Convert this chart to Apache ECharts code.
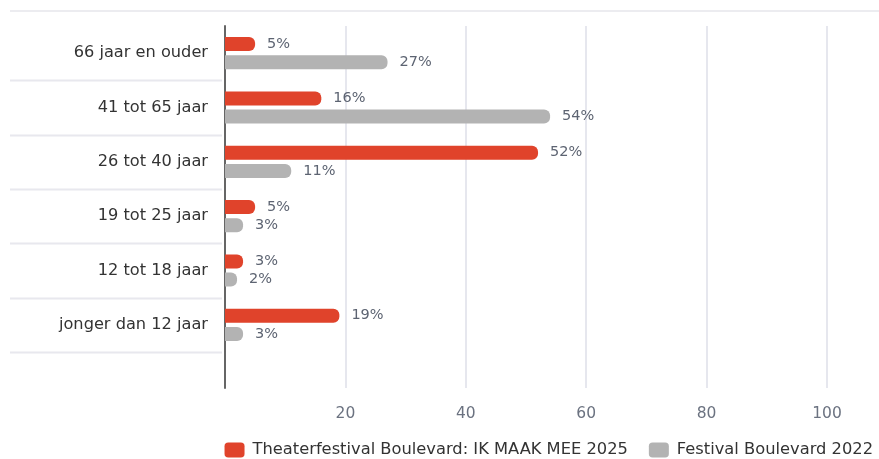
<!DOCTYPE html>
<html>
<head>
<meta charset="utf-8">
<script src="https://cdn.jsdelivr.net/npm/echarts@6/dist/echarts.min.js"></script>
<style>
  html, body { margin: 0; padding: 0; background: #fff; }
  #chart { width: 879px; height: 459px; }
</style>
</head>
<body>
<div id="chart"></div>
<script>
// Age groups, top to bottom
const categories = [
  '66 jaar en ouder',
  '41 tot 65 jaar',
  '26 tot 40 jaar',
  '19 tot 25 jaar',
  '12 tot 18 jaar',
  'jonger dan 12 jaar'
];
const seriesNames = ['Theaterfestival Boulevard: IK MAAK MEE 2025', 'Festival Boulevard 2022'];
const values2025 = [5, 16, 52, 5, 3, 19];
const values2022 = [27, 54, 11, 3, 2, 3];
const xTicks = [0, 20, 40, 60, 80, 100];

const FONT = 'DejaVu Sans';
const RED = '#e0432b';
const GREY = '#b3b3b3';

const chart = echarts.init(document.getElementById('chart'), null, { renderer: 'canvas' });

const barLabel = {
  show: true,
  position: 'right',
  distance: 12,
  formatter: p => p.value + '%',
  color: '#5d6472',
  fontFamily: FONT,
  fontSize: 14.5
};

const xBase = {
  type: 'value',
  min: xTicks[0],
  max: xTicks[xTicks.length - 1],
  interval: xTicks[1] - xTicks[0],
  axisLine: { show: false },
  axisTick: { show: false },
  splitLine: { show: true, lineStyle: { color: '#e6e7ee', width: 2 } }
};

chart.setOption({
  animation: false,
  textStyle: { fontFamily: FONT },
  grid: [
    { left: 225, right: 52, top: 26, height: 326 },
    { left: 225, right: 52, top: 352, height: 36 }
  ],
  xAxis: [
    Object.assign({}, xBase, { gridIndex: 0, axisLabel: { show: false } }),
    Object.assign({}, xBase, {
      gridIndex: 1,
      axisLabel: {
        show: true,
        margin: 18,
        color: '#6b7280',
        fontFamily: FONT,
        fontSize: 15.5,
        formatter: v => (v === 0 ? '' : String(v))
      }
    })
  ],
  yAxis: [
    {
      type: 'category',
      gridIndex: 0,
      inverse: true,
      data: categories,
      axisLine: { show: true, lineStyle: { color: '#666', width: 2 } },
      axisTick: { show: false },
      axisLabel: { margin: 17, color: '#333', fontFamily: FONT, fontSize: 16.2 }
    },
    {
      type: 'value',
      gridIndex: 1,
      axisLine: { show: true, lineStyle: { color: '#666', width: 2 } },
      axisTick: { show: false },
      axisLabel: { show: false },
      splitLine: { show: false }
    }
  ],
  legend: {
    top: 437,
    right: 1,
    itemWidth: 20,
    itemHeight: 15,
    itemGap: 21,
    icon: 'roundRect',
    textStyle: { color: '#333', fontFamily: FONT, fontSize: 16.3, padding: [0, 0, 0, 3] },
    data: seriesNames
  },
  series: [
    {
      name: seriesNames[0],
      type: 'bar',
      xAxisIndex: 0,
      yAxisIndex: 0,
      data: values2025,
      barWidth: 14,
      barGap: '30%',
      itemStyle: { color: RED, borderRadius: [0, 6, 6, 0] },
      label: barLabel
    },
    {
      name: seriesNames[1],
      type: 'bar',
      xAxisIndex: 0,
      yAxisIndex: 0,
      data: values2022,
      barWidth: 14,
      barGap: '30%',
      itemStyle: { color: GREY, borderRadius: [0, 6, 6, 0] },
      label: barLabel
    }
  ]
});

// Row separators to the left of the plot, placed between category bands
const centers = categories.map(c => chart.convertToPixel({ yAxisIndex: 0 }, c));
const band = Math.abs(centers[1] - centers[0]);
const lines = centers.map(cy => ({
  type: 'line',
  shape: { x1: 10, y1: Math.round(cy + band / 2) + 0.5, x2: 222, y2: Math.round(cy + band / 2) + 0.5 },
  style: { stroke: '#e8e8ee', lineWidth: 2 },
  silent: true
}));
lines.push({
  type: 'line',
  shape: { x1: 10, y1: 11, x2: 879, y2: 11 },
  style: { stroke: '#ececf0', lineWidth: 2 },
  silent: true
});
chart.setOption({ graphic: lines });
</script>
</body>
</html>
